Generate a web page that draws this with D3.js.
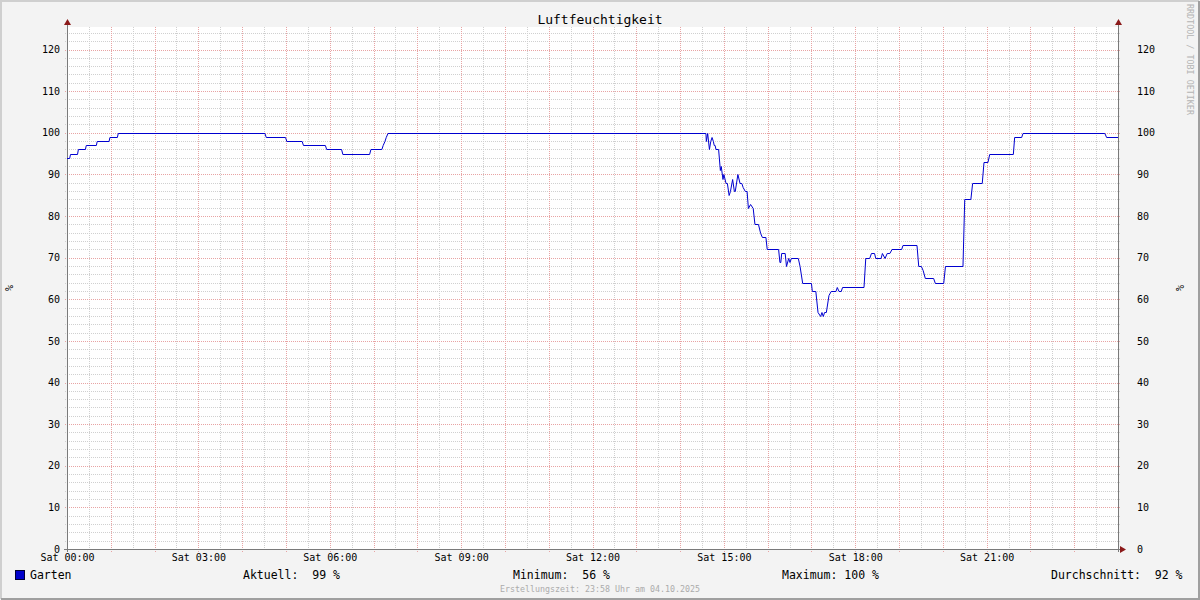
<!DOCTYPE html>
<html><head><meta charset="utf-8">
<script src="https://cdn.jsdelivr.net/npm/d3@7"></script>
<style>
html,body{margin:0;padding:0;background:#f3f3f3;}
svg{display:block;font-family:"DejaVu Sans Mono",monospace;}
</style></head>
<body>
<svg id="c" width="1200" height="600"></svg>
<script>
// ---- data ----
const title = "Luftfeuchtigkeit";
const unitLabel = "%";
const seriesName = "Garten";
// vertices of the humidity line: time (hours since Sat 00:00) and value (%)
const hours = [0,0.06,0.08,0.24,0.26,0.42,0.44,0.67,0.69,0.96,0.98,1.15,1.17,4.52,4.55,4.99,5.02,5.37,5.40,5.90,5.93,6.27,6.30,6.91,6.94,7.19,7.22,7.26,7.29,7.33,
 14.59,14.60,14.63,14.67,14.70,14.73,14.76,14.78,14.80,14.82,14.88,14.92,14.94,14.98,15.00,15.05,15.08,15.12,15.15,15.20,15.24,15.26,15.32,15.37,15.41,15.44,15.49,15.53,15.56,15.61,15.67,15.71,15.79,15.84,15.88,15.96,15.99,16.25,16.28,16.30,16.32,16.40,16.43,16.48,16.51,16.54,16.70,16.74,16.80,17.00,17.02,17.10,17.15,17.21,17.24,17.27,17.30,17.34,17.40,17.45,17.56,17.59,17.63,17.68,17.71,18.20,18.24,18.33,18.37,18.44,18.47,18.59,18.62,18.68,18.73,18.79,18.84,19.06,19.09,19.41,19.45,19.51,19.55,19.60,19.79,19.83,20.02,20.06,20.46,20.50,20.64,20.68,20.90,20.94,21.03,21.07,21.61,21.64,21.80,21.83,23.70,23.74,24];
const humidity = [94,94,95,95,96,96,97,97,98,98,99,99,100,100,99,99,98,98,97,97,96,96,95,95,96,96,97,98,99,100,
 100,98,100,96,98,99,98,97,97,96,96,91,92,89,90,88,88,85,86,89,86,86,90,88,88,87,86,86,82,83,82,78,78,76,75,75,72,72,69,69,71,71,68,70,69,70,70,68,64,64,62,62,57,56,57,56,57,57,61,62,62,63,62,62,63,63,70,70,71,71,70,70,71,70,71,71,72,72,73,73,68,68,67,65,65,64,64,68,68,84,84,88,88,93,93,95,95,99,99,100,100,99,99];
const yTicks = [0,10,20,30,40,50,60,70,80,90,100,110,120];
const xTickHours = [0,3,6,9,12,15,18,21];
const xTickLabels = ["Sat 00:00","Sat 03:00","Sat 06:00","Sat 09:00","Sat 12:00","Sat 15:00","Sat 18:00","Sat 21:00"];
const statLabels = ["Aktuell:  99 %","Minimum:  56 %","Maximum: 100 %","Durchschnitt:  92 %"];
const footer = "Erstellungszeit: 23:58 Uhr am 04.10.2025";
const watermark = "RRDTOOL / TOBI OETIKER";

// ---- drawing ----
const svg = d3.select("#c");
const L = 67, R = 1118, B = 549;
const x = d3.scaleLinear().domain([0,24]).range([L,R]);
const y = d3.scaleLinear().domain([0,120]).range([B,49.5]);
const yTop = Math.round(y(125.3));

// frame
svg.append("rect").attr("x",0).attr("y",0).attr("width",1200).attr("height",600).attr("fill","#f3f3f3");
svg.append("path").attr("d","M1,599 V1 H1199").attr("fill","none").attr("stroke","#cfcfcf").attr("stroke-width",2);
svg.append("path").attr("d","M1199,1 V599 H1").attr("fill","none").attr("stroke","#9f9f9f").attr("stroke-width",2);

// plot background
svg.append("rect").attr("x",L).attr("y",yTop).attr("width",R-L).attr("height",B-yTop).attr("fill","#ffffff");

const g = svg.append("g").attr("shape-rendering","crispEdges");
const minorCol = "#d0d0d0", majorCol = "#e8a4a4", dash = "1,1";
// minor horizontal grid (every 2)
d3.range(2,126,2).filter(v=>v%10!==0).forEach(v=>{
  g.append("line").attr("x1",L-2).attr("x2",R+2).attr("y1",Math.round(y(v))+0.5).attr("y2",Math.round(y(v))+0.5)
   .attr("stroke",minorCol).attr("stroke-dasharray",dash);
});
// minor vertical grid (every 30 min)
d3.range(0.5,24,1).forEach(h=>{
  g.append("line").attr("x1",Math.round(x(h))+0.5).attr("x2",Math.round(x(h))+0.5).attr("y1",yTop).attr("y2",B+2)
   .attr("stroke",minorCol).attr("stroke-dasharray",dash);
});
// major horizontal grid
yTicks.filter(v=>v>0).forEach(v=>{
  g.append("line").attr("x1",L-2).attr("x2",R+2).attr("y1",Math.round(y(v))+0.5).attr("y2",Math.round(y(v))+0.5)
   .attr("stroke",majorCol).attr("stroke-dasharray",dash);
});
// major vertical grid (hours)
d3.range(1,24,1).forEach(h=>{
  g.append("line").attr("x1",Math.round(x(h))+0.5).attr("x2",Math.round(x(h))+0.5).attr("y1",yTop).attr("y2",B+3)
   .attr("stroke",majorCol).attr("stroke-dasharray",dash);
});

// axes lines
const ax = svg.append("g").attr("shape-rendering","crispEdges");
ax.append("line").attr("x1",L+0.5).attr("x2",L+0.5).attr("y1",yTop-3).attr("y2",B+3).attr("stroke","#7a7a7a");
ax.append("line").attr("x1",R+0.5).attr("x2",R+0.5).attr("y1",yTop-3).attr("y2",B+3).attr("stroke","#7a7a7a");
ax.append("line").attr("x1",L-3).attr("x2",R+2).attr("y1",B+0.5).attr("y2",B+0.5).attr("stroke","#7a7a7a");
// arrows
const ar = "#8b1a1a";
svg.append("path").attr("d",`M${L-3},${yTop-2} L${L+4},${yTop-2} L${L+0.5},${yTop-8} Z`).attr("fill",ar);
svg.append("path").attr("d",`M${R-3},${yTop-2} L${R+4},${yTop-2} L${R+0.5},${yTop-8} Z`).attr("fill",ar);
svg.append("path").attr("d",`M${R+2},${B-3} L${R+2},${B+4} L${R+8},${B+0.5} Z`).attr("fill",ar);

// y tick labels (left and right)
const yAxisL = d3.axisLeft(y).tickValues(yTicks).tickSize(0).tickPadding(7);
const ga = svg.append("g").attr("transform",`translate(${L},0)`).call(yAxisL);
ga.select(".domain").remove();
ga.selectAll("text").attr("font-size","10px").attr("fill","#000").attr("font-family","DejaVu Sans Mono");
const yAxisR = d3.axisRight(y).tickValues(yTicks).tickSize(0).tickPadding(19);
const gr = svg.append("g").attr("transform",`translate(${R},0)`).call(yAxisR);
gr.select(".domain").remove();
gr.selectAll("text").attr("font-size","10px").attr("fill","#000").attr("font-family","DejaVu Sans Mono");

// x tick labels
const xAxis = d3.axisBottom(x).tickValues(xTickHours).tickFormat((d,i)=>xTickLabels[i]).tickSize(0).tickPadding(5);
const gx = svg.append("g").attr("transform",`translate(0,${B})`).call(xAxis);
gx.select(".domain").remove();
gx.selectAll("text").attr("font-size","10px").attr("fill","#000").attr("font-family","DejaVu Sans Mono");

// data line
const pts = hours.map((h,i)=>({h, v:humidity[i]}));
svg.append("path").datum(pts)
  .attr("d", d3.line().x(d=>x(d.h)).y(d=>Math.round(y(d.v))+0.5))
  .attr("fill","none").attr("stroke","#0000d0").attr("stroke-width",1).attr("stroke-linejoin","round");

// title
svg.append("text").attr("x",600).attr("y",24).attr("text-anchor","middle").attr("font-size","13px").attr("fill","#000").text(title);
// unit labels
svg.append("text").attr("transform","translate(13,288) rotate(-90)").attr("text-anchor","middle").attr("font-size","10px").text(unitLabel);
svg.append("text").attr("transform","translate(1176,288) rotate(90)").attr("text-anchor","middle").attr("font-size","10px").text(unitLabel);
// watermark
svg.append("text").attr("transform","translate(1187,4) rotate(90)").attr("font-size","8.4px").attr("fill","#b4b4b4").text(watermark);

// legend
svg.append("rect").attr("x",15.5).attr("y",570.5).attr("width",9).attr("height",9).attr("fill","#0000cc").attr("stroke","#000033");
const lf = "11.5px";
svg.append("text").attr("x",30).attr("y",579).attr("font-size",lf).text(seriesName);
const statX = [243,513,782,1051];
statLabels.forEach((s,i)=>{
  svg.append("text").attr("x",statX[i]).attr("y",579).attr("font-size",lf).attr("xml:space","preserve").style("white-space","pre").text(s);
});
svg.append("text").attr("x",600).attr("y",592).attr("text-anchor","middle").attr("font-size","8.3px").attr("fill","#ababab").text(footer);
</script>
</body></html>
